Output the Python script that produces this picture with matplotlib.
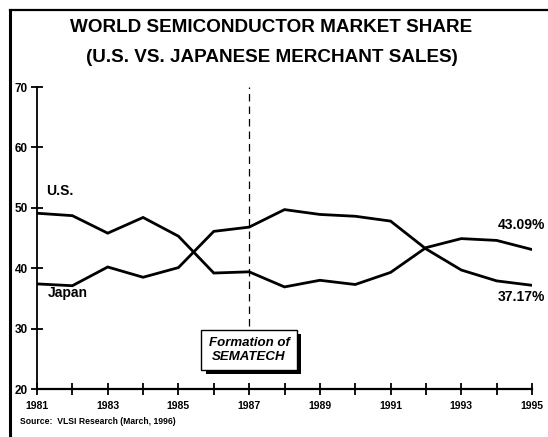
import matplotlib
matplotlib.use("Agg")
import matplotlib.pyplot as plt
from matplotlib.lines import Line2D
import matplotlib.patheffects as pe

years = [1981, 1982, 1983, 1984, 1985, 1986, 1987, 1988, 1989, 1990, 1991, 1992, 1993, 1994, 1995]
us_share = [49.1, 48.7, 45.8, 48.4, 45.3, 39.2, 39.4, 36.9, 38.0, 37.3, 39.3, 43.4, 44.9, 44.6, 43.09]
japan_share = [37.4, 37.1, 40.2, 38.5, 40.1, 46.1, 46.8, 49.7, 48.9, 48.6, 47.8, 43.2, 39.7, 37.9, 37.17]
ytick_vals = [20, 30, 40, 50, 60, 70]
xtick_label_years = [1981, 1983, 1985, 1987, 1989, 1991, 1993, 1995]
title_lines = ["WORLD SEMICONDUCTOR MARKET SHARE", "(U.S. VS. JAPANESE MERCHANT SALES)"]
event_year = 1987
event_label = "Formation of\nSEMATECH"
source_text = "Source:  VLSI Research (March, 1996)"

FONT = ["Liberation Sans", "DejaVu Sans"]
plt.rcParams['font.family'] = FONT

W, H = 548, 437
fig = plt.figure(figsize=(W / 100, H / 100), dpi=100)
ax = fig.add_axes([37 / W, 1 - 389 / H, (532 - 37) / W, (389 - 87) / H])

ax.plot(years, us_share, color="black", lw=2.0, solid_joinstyle="miter")
ax.plot(years, japan_share, color="black", lw=2.0, solid_joinstyle="miter")

ax.set_xlim(1981, 1995)
ax.set_ylim(20, 70)
for s in ["top", "right"]:
    ax.spines[s].set_visible(False)
ax.spines["left"].set_linewidth(1.3)
ax.spines["bottom"].set_linewidth(1.6)

ax.set_yticks(ytick_vals)
ax.set_yticklabels([str(v) for v in ytick_vals], fontweight="bold", fontsize=8.5)
ax.set_xticks(years)
ax.set_xticklabels([str(y) if y in xtick_label_years else "" for y in years],
                   fontweight="bold", fontsize=7.5)
ax.tick_params(axis="both", direction="inout", length=9, width=1.3, color="black")
ax.tick_params(axis="x", pad=4)
ax.tick_params(axis="y", pad=2)

# dashed event line
ax.plot([event_year, event_year], [30.4, 70], color="black", lw=0.9,
        linestyle=(0, (6, 4)))

# event box with shadow
t = ax.text(event_year, 26.5, event_label, ha="center", va="center", ma="center",
            fontsize=9.5, fontweight="bold", style="italic", linespacing=1.2,
            bbox=dict(boxstyle="square,pad=0.55", facecolor="white",
                      edgecolor="black", linewidth=1.0))
t.get_bbox_patch().set_path_effects([
    pe.SimplePatchShadow(offset=(3, -3), shadow_rgbFace="black", alpha=1.0),
    pe.Normal()])

# series labels
ax.text(1981.25, 52.8, "U.S.", fontsize=10, fontweight="bold", ha="left", va="center")
ax.text(1981.3, 35.9, "Japan", fontsize=10, fontweight="bold", ha="left", va="center")
ax.text(1994.7, 47.2, "43.09%", fontsize=10, fontweight="bold", ha="center", va="center",
        clip_on=False)
ax.text(1994.7, 35.3, "37.17%", fontsize=10, fontweight="bold", ha="center", va="center",
        clip_on=False)

# title
fig.text(0.494, 1 - 27 / H, title_lines[0], ha="center", va="center",
         fontsize=13.6, fontweight="bold")
fig.text(0.496, 1 - 57 / H, title_lines[1], ha="center", va="center",
         fontsize=13.6, fontweight="bold")

# source
fig.text(20 / W, 1 - 422 / H, source_text, ha="left", va="center",
         fontsize=6.2, fontweight="bold")

# page border (left & top)
fig.add_artist(Line2D([10 / W, 10 / W], [0, 1 - 10 / H], transform=fig.transFigure,
                      color="black", lw=2.2))
fig.add_artist(Line2D([10 / W, 1], [1 - 10 / H, 1 - 10 / H], transform=fig.transFigure,
                      color="black", lw=1.6))

fig.savefig("out.png", dpi=100)
